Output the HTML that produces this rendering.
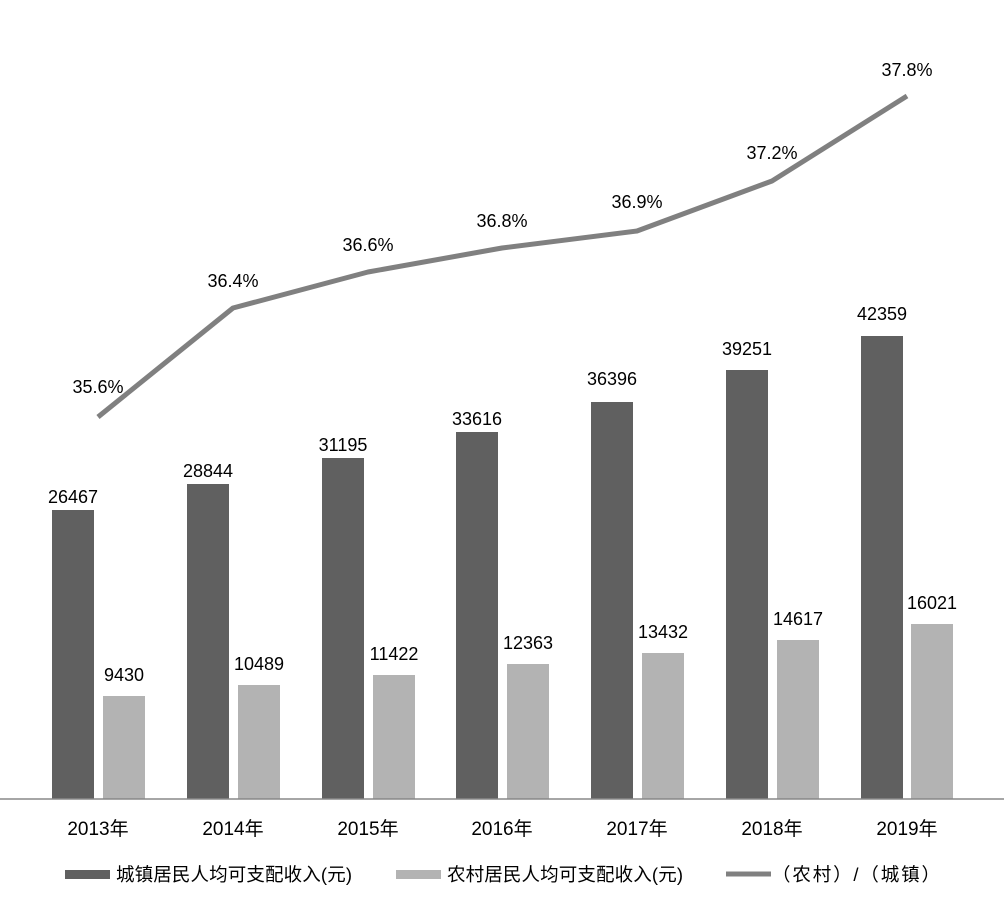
<!DOCTYPE html>
<html><head><meta charset="utf-8"><style>
html,body{margin:0;padding:0;background:#fff}
svg{display:block}
text{font-family:"Liberation Sans","Noto Sans CJK SC",sans-serif;fill:#000}
</style></head><body>
<svg width="1004" height="903" viewBox="0 0 1004 903">
<g fill="#606060">
<rect x="52" y="510" width="42" height="289"/>
<rect x="187" y="484" width="42" height="315"/>
<rect x="322" y="458" width="42" height="341"/>
<rect x="456" y="432" width="42" height="367"/>
<rect x="591" y="402" width="42" height="397"/>
<rect x="726" y="370" width="42" height="429"/>
<rect x="861" y="336" width="42" height="463"/>
</g>
<g fill="#b3b3b3">
<rect x="103" y="696" width="42" height="103"/>
<rect x="238" y="685" width="42" height="114"/>
<rect x="373" y="675" width="42" height="124"/>
<rect x="507" y="664" width="42" height="135"/>
<rect x="642" y="653" width="42" height="146"/>
<rect x="777" y="640" width="42" height="159"/>
<rect x="911" y="624" width="42" height="175"/>
</g>
<line x1="0" y1="799" x2="1004" y2="799" stroke="#888" stroke-width="1.5"/>
<polyline points="98,417 233,308 368,272 502,248 637,231 772,181 907,96" fill="none" stroke="#808080" stroke-width="5" stroke-linejoin="round"/>
<g font-size="18" text-anchor="middle">
<text x="73" y="503">26467</text><text x="208" y="477">28844</text><text x="343" y="451">31195</text><text x="477" y="425">33616</text><text x="612" y="385">36396</text><text x="747" y="355">39251</text><text x="882" y="320">42359</text>
<text x="124" y="681">9430</text><text x="259" y="670">10489</text><text x="394" y="660">11422</text><text x="528" y="649">12363</text><text x="663" y="638">13432</text><text x="798" y="625">14617</text><text x="932" y="609">16021</text>
<text x="98" y="393">35.6%</text><text x="233" y="287">36.4%</text><text x="368" y="251">36.6%</text><text x="502" y="227">36.8%</text><text x="637" y="208">36.9%</text><text x="772" y="159">37.2%</text><text x="907" y="76">37.8%</text>
</g>
<g font-size="19" text-anchor="middle">
<text x="98" y="835">2013年</text><text x="233" y="835">2014年</text><text x="368" y="835">2015年</text><text x="502" y="835">2016年</text><text x="637" y="835">2017年</text><text x="772" y="835">2018年</text><text x="907" y="835">2019年</text>
</g>
<rect x="65" y="870" width="45" height="9" fill="#606060"/>
<text x="116" y="881" font-size="18.5" textLength="236">城镇居民人均可支配收入(元)</text>
<rect x="396" y="870" width="45" height="9" fill="#b3b3b3"/>
<text x="447" y="881" font-size="18.5" textLength="236">农村居民人均可支配收入(元)</text>
<line x1="726" y1="874" x2="771" y2="874" stroke="#808080" stroke-width="5"/>
<text x="772" y="881" font-size="18.5" textLength="168">（农村）/（城镇）</text>
</svg>
</body></html>
